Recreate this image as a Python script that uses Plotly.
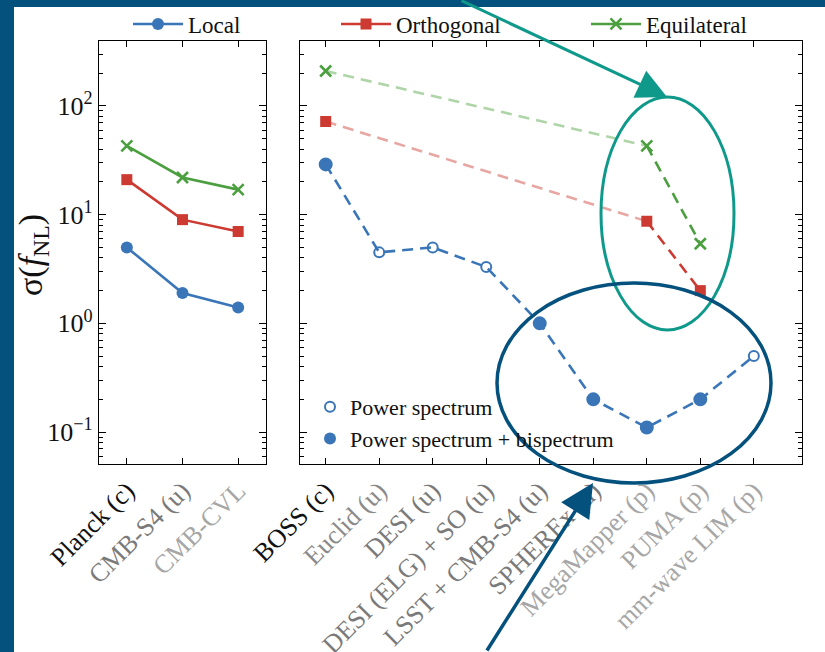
import plotly.graph_objects as go
import numpy as np

W, H = 825, 652

# ---------------- data ----------------
cmb_names = ["Planck (c)", "CMB-S4 (u)", "CMB-CVL"]
cmb_local = [5.0, 1.9, 1.4]
cmb_orth = [21.0, 9.0, 7.0]
cmb_equil = [43.0, 22.0, 17.0]

lss_names = ["BOSS (c)", "Euclid (u)", "DESI (u)", "DESI (ELG) + SO (u)", "LSST + CMB-S4 (u)",
             "SPHEREx (u)", "MegaMapper (p)", "PUMA (p)", "mm-wave LIM (p)"]
lss_local = [29.0, 4.5, 5.0, 3.3, 1.0, 0.2, 0.11, 0.2, 0.5]
lss_local_bispec = [True, False, False, False, True, True, True, True, False]
lss_orth = [72.0, None, None, None, None, None, 8.7, 2.0, None]
lss_equil = [210.0, None, None, None, None, None, 43.0, 5.4, None]

cmb_label_colors = ["#111111", "#7a7a7a", "#a6a6a6"]
lss_label_colors = ["#111111", "#8a8a8a", "#7a7a7a", "#7a7a7a", "#7a7a7a",
                    "#7a7a7a", "#a6a6a6", "#a6a6a6", "#a6a6a6"]

y_tickvals = [0.1, 1, 10, 100]
y_ticktext = ["10<sup>−1</sup>", "10<sup>0</sup>", "10<sup>1</sup>", "10<sup>2</sup>"]
y_title = "σ(<i>f</i><sub>NL</sub>)"

BLUE = "#3a76b7"
RED = "#cc3a31"
GREEN = "#4b9f3f"
RED_F = "rgba(204,58,49,0.45)"
GREEN_F = "rgba(75,159,63,0.45)"
BORDER = "#04517d"
TEAL = "#0f998a"
FONT = "Liberation Serif"

fig = go.Figure()

# ---------- left panel (CMB) ----------
fig.add_trace(go.Scatter(x=cmb_names, y=cmb_local, mode="lines+markers", name="Local",
                         line=dict(color=BLUE, width=2.6),
                         marker=dict(symbol="circle", size=12, color=BLUE, opacity=1),
                         xaxis="x", yaxis="y", legend="legend"))
fig.add_trace(go.Scatter(x=cmb_names, y=cmb_orth, mode="lines+markers", name="Orthogonal",
                         line=dict(color=RED, width=2.6),
                         marker=dict(symbol="square", size=11, color=RED, opacity=1),
                         xaxis="x", yaxis="y", legend="legend2"))
fig.add_trace(go.Scatter(x=cmb_names, y=cmb_equil, mode="lines+markers", name="Equilateral",
                         line=dict(color=GREEN, width=2.6),
                         marker=dict(symbol="x-thin", size=11, color=GREEN, opacity=1,
                                     line=dict(color=GREEN, width=2.6)),
                         xaxis="x", yaxis="y", legend="legend3"))

# ---------- right panel (LSS) ----------
DASH = "11px,7px"
fig.add_trace(go.Scatter(x=lss_names, y=lss_local, mode="lines",
                         line=dict(color=BLUE, width=2.6, dash=DASH),
                         showlegend=False, xaxis="x2", yaxis="y2"))
fig.add_trace(go.Scatter(x=lss_names, y=lss_local, mode="markers",
                         marker=dict(symbol=["circle" if b else "circle-open" for b in lss_local_bispec],
                                     size=[12 if b else 10 for b in lss_local_bispec], opacity=1,
                                     color=BLUE, line=dict(color=BLUE, width=2)),
                         showlegend=False, xaxis="x2", yaxis="y2"))


def faded_and_full(vals, names, faded, full, sym, size, mline):
    pts = [(n, v) for n, v in zip(names, vals) if v is not None]
    fig.add_trace(go.Scatter(x=[pts[0][0], pts[-2][0]], y=[pts[0][1], pts[-2][1]], mode="lines",
                             line=dict(color=faded, width=2.6, dash=DASH),
                             showlegend=False, xaxis="x2", yaxis="y2"))
    fig.add_trace(go.Scatter(x=[pts[-2][0], pts[-1][0]], y=[pts[-2][1], pts[-1][1]], mode="lines",
                             line=dict(color=full, width=2.6, dash=DASH),
                             showlegend=False, xaxis="x2", yaxis="y2"))
    fig.add_trace(go.Scatter(x=[p[0] for p in pts], y=[p[1] for p in pts], mode="markers",
                             marker=dict(symbol=sym, size=size, color=full, line=mline, opacity=1),
                             showlegend=False, xaxis="x2", yaxis="y2"))


faded_and_full(lss_orth, lss_names, RED_F, RED, "square", 11, dict(width=0))
faded_and_full(lss_equil, lss_names, GREEN_F, GREEN, "x-thin", 11, dict(color=GREEN, width=2.6))

# inner legend entries (legend-only traces)
fig.add_trace(go.Scatter(x=[None], y=[None], mode="markers", name="Power spectrum",
                         marker=dict(symbol="circle-open", size=10, color=BLUE, line=dict(width=2, color=BLUE)),
                         xaxis="x2", yaxis="y2", legend="legend4"))
fig.add_trace(go.Scatter(x=[None], y=[None], mode="markers", name="Power spectrum + bispectrum",
                         marker=dict(symbol="circle", size=12, color=BLUE),
                         xaxis="x2", yaxis="y2", legend="legend4"))

# ---------- axes ----------
ylo, yhi = -1.294, 2.598
minor_vals = [m * 10.0 ** e for e in range(-2, 3) for m in range(2, 10)]

common_x = dict(type="category", showgrid=False, zeroline=False, showline=True, linecolor="black",
                linewidth=1.4, mirror="allticks", ticks="inside", ticklen=6, tickwidth=1.3,
                tickcolor="black", tickangle=-45, automargin=False,
                tickfont=dict(family=FONT, size=26))
common_y = dict(type="log", range=[ylo, yhi], showgrid=False, zeroline=False, showline=True,
                linecolor="black", linewidth=1.4, mirror="allticks", ticks="inside", ticklen=7,
                tickwidth=1.3, tickcolor="black", tickmode="array", tickvals=y_tickvals,
                automargin=False,
                minor=dict(tickmode="array", tickvals=minor_vals, ticks="inside", ticklen=4,
                           tickwidth=1.0, tickcolor="black", showgrid=False),
                domain=[1 - 464 / H, 1 - 41 / H])

fig.update_layout(
    width=W, height=H,
    margin=dict(l=0, r=0, t=0, b=0, autoexpand=False),
    paper_bgcolor=BORDER, plot_bgcolor="white",
    font=dict(family=FONT, color="#111111"),
    xaxis=dict(common_x, domain=[99 / W, 266 / W], range=[-0.5, 2.5], anchor="y",
               tickmode="array", tickvals=cmb_names,
               ticktext=[f'<span style="color:{c}">{n}</span>' for n, c in zip(cmb_names, cmb_label_colors)]),
    xaxis2=dict(common_x, domain=[300 / W, 802 / W], range=[-0.48, 8.9], anchor="y2",
                tickmode="array", tickvals=lss_names,
                ticktext=[f'<span style="color:{c}">{n}</span>' for n, c in zip(lss_names, lss_label_colors)]),
    yaxis=dict(common_y, anchor="x", ticktext=y_ticktext, tickfont=dict(family=FONT, size=26)),
    yaxis2=dict(common_y, anchor="x2", showticklabels=False, ticktext=y_ticktext),
    showlegend=True,
    legend=dict(x=128 / W, y=1 - 24 / H, xanchor="left", yanchor="middle", bgcolor="rgba(0,0,0,0)",
                font=dict(family=FONT, size=23), itemwidth=50),
    legend2=dict(x=336 / W, y=1 - 24 / H, xanchor="left", yanchor="middle", bgcolor="rgba(0,0,0,0)",
                 font=dict(family=FONT, size=23), itemwidth=50),
    legend3=dict(x=586 / W, y=1 - 24 / H, xanchor="left", yanchor="middle", bgcolor="rgba(0,0,0,0)",
                 font=dict(family=FONT, size=23), itemwidth=50),
    legend4=dict(x=310 / W, y=1 - 423 / H, xanchor="left", yanchor="middle", bgcolor="rgba(0,0,0,0)",
                 font=dict(family=FONT, size=22), tracegroupgap=0),
)

# y-axis title
fig.add_annotation(x=33 / W, y=1 - 255 / H, xref="paper", yref="paper", text=y_title,
                   textangle=-90, showarrow=False, xanchor="center", yanchor="middle",
                   font=dict(family=FONT, size=34, color="#111111"))

# white canvas inside the blue frame
fig.add_shape(type="rect", xref="paper", yref="paper", x0=14 / W, x1=1.0, y0=0, y1=1 - 7 / H,
              fillcolor="white", line=dict(width=0), layer="below")

# ellipses
fig.add_shape(type="circle", xref="paper", yref="paper", x0=601 / W, x1=734 / W,
              y0=1 - 330 / H, y1=1 - 97 / H, line=dict(color=TEAL, width=3), layer="above")
fig.add_shape(type="circle", xref="paper", yref="paper", x0=497 / W, x1=771 / W,
              y0=1 - 483 / H, y1=1 - 283 / H, line=dict(color=BORDER, width=3.5), layer="above")

# arrows
fig.add_annotation(x=667 / W, y=1 - 97 / H, xref="paper", yref="paper", text="",
                   showarrow=True, ax=460 - 667, ay=-5 - 97, arrowhead=2, arrowsize=2.0,
                   arrowwidth=3, arrowcolor=TEAL)
fig.add_annotation(x=593 / W, y=1 - 483 / H, xref="paper", yref="paper", text="",
                   showarrow=True, ax=486 - 593, ay=660 - 483, arrowhead=2, arrowsize=1.9,
                   arrowwidth=3.5, arrowcolor=BORDER)

fig.write_html("out.html")
